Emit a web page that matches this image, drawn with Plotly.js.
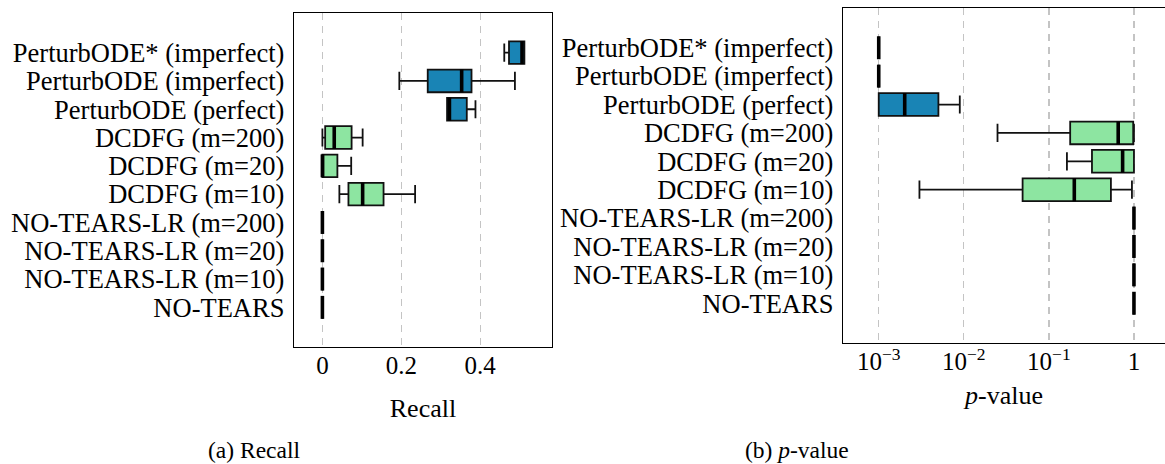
<!DOCTYPE html>
<html>
<head>
<meta charset="utf-8">
<script src="https://cdn.plot.ly/plotly-3.0.1.min.js"></script>
<style>html,body{margin:0;padding:0;background:#fff;}#chart{width:1165px;height:464px;}</style>
</head>
<body>
<div id="chart"></div>
<script>
// ---- data ----
const categories = ["PerturbODE* (imperfect)", "PerturbODE (imperfect)", "PerturbODE (perfect)",
  "DCDFG (m=200)", "DCDFG (m=20)", "DCDFG (m=10)",
  "NO-TEARS-LR (m=200)", "NO-TEARS-LR (m=20)", "NO-TEARS-LR (m=10)", "NO-TEARS"];
const family = ["PerturbODE", "PerturbODE", "PerturbODE", "DCDFG", "DCDFG", "DCDFG",
  "NO-TEARS", "NO-TEARS", "NO-TEARS", "NO-TEARS"];

const recallLower  = [0.461, 0.195, 0.316, 0.000, 0.000, 0.043, 0, 0, 0, 0];
const recallQ1     = [0.473, 0.267, 0.316, 0.007, 0.000, 0.066, 0, 0, 0, 0];
const recallMedian = [0.506, 0.353, 0.322, 0.030, 0.000, 0.102, 0, 0, 0, 0];
const recallQ3     = [0.512, 0.378, 0.366, 0.074, 0.038, 0.155, 0, 0, 0, 0];
const recallUpper  = [0.512, 0.488, 0.388, 0.102, 0.073, 0.235, 0, 0, 0, 0];

const pLower  = [0.001, 0.001, 0.001, 0.0249, 0.163, 0.00301, 1, 1, 1, 1];
const pQ1     = [0.001, 0.001, 0.001, 0.178, 0.321, 0.0491, 1, 1, 1, 1];
const pMedian = [0.001, 0.001, 0.00202, 0.653, 0.736, 0.199, 1, 1, 1, 1];
const pQ3     = [0.001, 0.001, 0.00503, 0.98, 1.0, 0.536, 1, 1, 1, 1];
const pUpper  = [0.001, 0.001, 0.00897, 1.0, 1.0, 0.947, 1, 1, 1, 1];

const recallTickVals = [0, 0.2, 0.4];
const recallTickText = ["0", "0.2", "0.4"];
const pTickVals = [0.001, 0.01, 0.1, 1];
const pTickText = ["10<sup>\u22123</sup>", "10<sup>\u22122</sup>", "10<sup>\u22121</sup>", "1"];

// ---- styling ----
const familyColor = {"PerturbODE": "#1984b5", "DCDFG": "#8de5a1", "NO-TEARS": "#8de5a1"};
const SERIF = "Liberation Serif, Times New Roman, serif";

function pick(arr, idx) { return idx.map(i => arr[i]); }

function boxTraces(lower, q1, med, q3, upper, xa, ya) {
  const traces = [];
  const fams = [...new Set(family)];
  fams.forEach(f => {
    const idx = family.map((g, i) => g === f ? i : -1).filter(i => i >= 0);
    traces.push({
      type: "box", orientation: "h", xaxis: xa, yaxis: ya,
      y: pick(categories, idx),
      lowerfence: pick(lower, idx), q1: pick(q1, idx), median: pick(med, idx),
      q3: pick(q3, idx), upperfence: pick(upper, idx),
      fillcolor: familyColor[f],
      line: {color: "#111111", width: 1.8},
      width: 0.8, whiskerwidth: 0.8,
      boxpoints: false, showlegend: false, hoverinfo: "skip"
    });
  });
  traces.push({
    type: "scatter", mode: "markers", xaxis: xa, yaxis: ya,
    x: med, y: categories,
    marker: {symbol: "line-ns", size: 16.4, color: "#000", line: {color: "#000", width: 3.6}},
    showlegend: false, hoverinfo: "skip", cliponaxis: false
  });
  return traces;
}

const data = [].concat(
  boxTraces(recallLower, recallQ1, recallMedian, recallQ3, recallUpper, "x", "y"),
  boxTraces(pLower, pQ1, pMedian, pQ3, pUpper, "x2", "y2")
);

const yCommon = {
  type: "category", categoryorder: "array", categoryarray: categories,
  tickmode: "array", tickvals: categories, ticktext: categories,
  range: [9 + 1.4, -1.4], showgrid: false, zeroline: false,
  showline: true, linecolor: "#000", linewidth: 1.3, ticks: "",
  ticklabelstandoff: 3,
  tickfont: {family: SERIF, size: 26.5, color: "#000"}
};
const xCommon = {
  showgrid: true, gridcolor: "#c4c4c4", gridwidth: 1.4, griddash: "7px,6px",
  zeroline: false, showline: true, mirror: true, linecolor: "#000", linewidth: 1.3,
  ticks: "", ticklabelstandoff: -4,
  tickfont: {family: SERIF, size: 25, color: "#000"},
  tickmode: "array"
};

const layout = {
  width: 1165, height: 464,
  margin: {l: 0, r: 0, t: 0, b: 0},
  paper_bgcolor: "#fff", plot_bgcolor: "#fff",
  boxmode: "overlay",
  font: {family: SERIF, color: "#000"},
  xaxis: Object.assign({}, xCommon, {
    domain: [294 / 1165, 552 / 1165], anchor: "y",
    range: [-0.072, 0.582], tickvals: recallTickVals, ticktext: recallTickText,
    title: {text: "Recall", font: {family: SERIF, size: 26, color: "#000"}, standoff: 20}
  }),
  yaxis: Object.assign({}, yCommon, {
    domain: [(464 - 347) / 464, (464 - 13) / 464], anchor: "x", mirror: true
  }),
  xaxis2: Object.assign({}, xCommon, {
    domain: [843 / 1165, 1], anchor: "y2", type: "log",
    range: [-3.42, 0.365], tickvals: pTickVals, ticktext: pTickText,
    title: {text: "<i>p</i>-value", font: {family: SERIF, size: 26, color: "#000"}, standoff: 11}
  }),
  yaxis2: Object.assign({}, yCommon, {
    domain: [(464 - 343) / 464, (464 - 8) / 464], anchor: "x2", mirror: false
  }),
  annotations: [
    {text: "(a) Recall", xref: "paper", yref: "paper", x: 254 / 1165, y: (464 - 450) / 464,
     xanchor: "center", yanchor: "middle", showarrow: false,
     font: {family: SERIF, size: 23.5, color: "#000"}},
    {text: "(b) <i>p</i>-value", xref: "paper", yref: "paper", x: 797 / 1165, y: (464 - 450) / 464,
     xanchor: "center", yanchor: "middle", showarrow: false,
     font: {family: SERIF, size: 23.5, color: "#000"}}
  ]
};

Plotly.newPlot("chart", data, layout, {displayModeBar: false, staticPlot: true});
</script>
</body>
</html>
